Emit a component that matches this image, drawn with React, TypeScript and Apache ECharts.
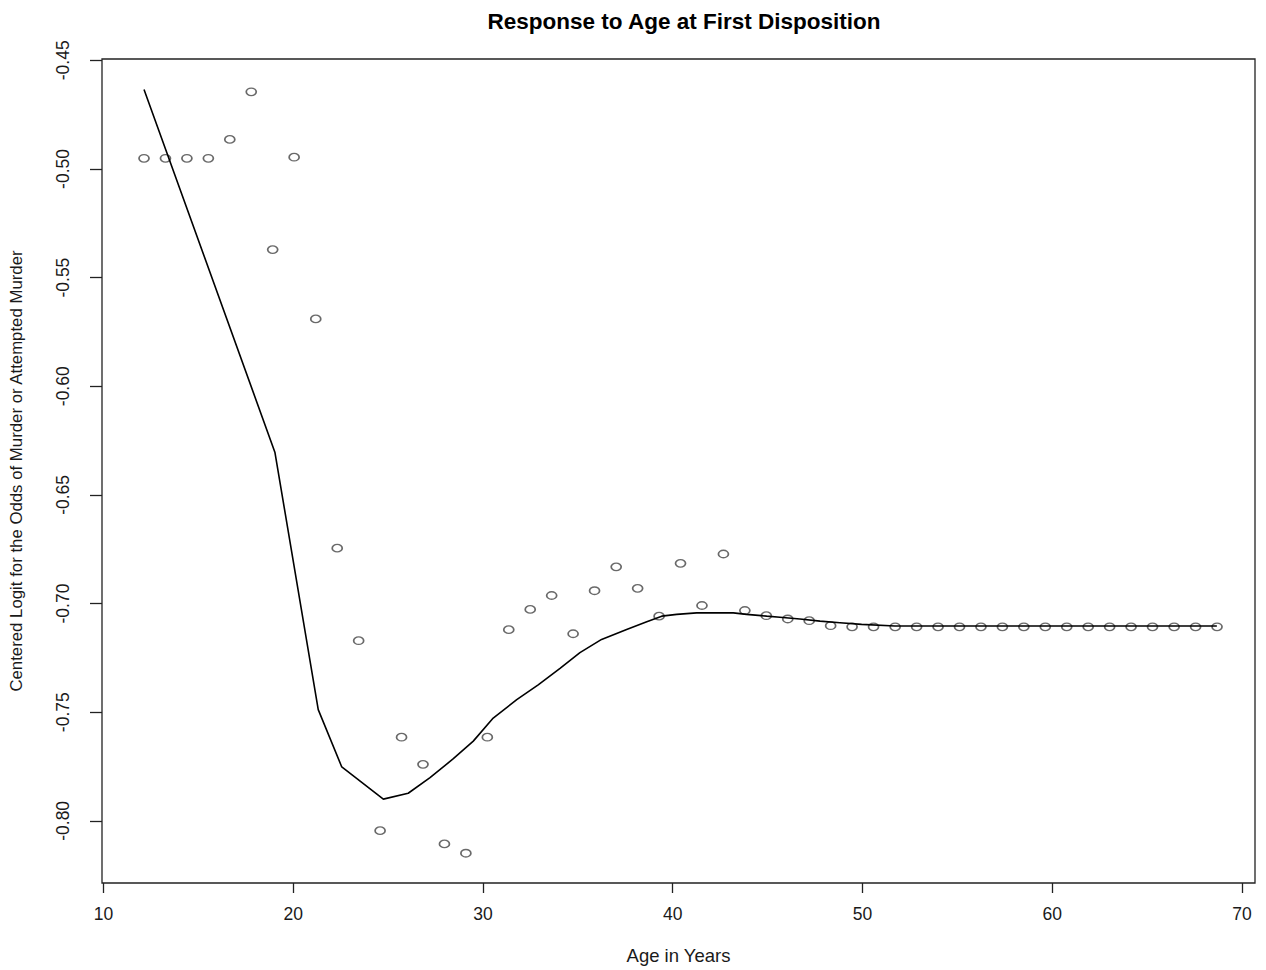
import React, { useEffect, useRef } from "react";
import * as echarts from "echarts";

const pointAges = [
  12.14, 13.27, 14.4, 15.53, 16.66, 17.79, 18.92, 20.05, 21.19, 22.32,
  23.45, 24.58, 25.71, 26.84, 27.97, 29.1, 30.23, 31.36, 32.49, 33.62,
  34.75, 35.88, 37.02, 38.15, 39.28, 40.41, 41.54, 42.67, 43.8, 44.93,
  46.06, 47.19, 48.32, 49.45, 50.58, 51.72, 52.85, 53.98, 55.11, 56.24,
  57.37, 58.5, 59.63, 60.76, 61.89, 63.02, 64.15, 65.28, 66.42, 67.55, 68.68,
];
const pointLogits = [
  -0.4951, -0.4951, -0.4951, -0.4951, -0.4864, -0.4645, -0.5371, -0.4946, -0.569, -0.6745,
  -0.7171, -0.8045, -0.7615, -0.774, -0.8106, -0.8149, -0.7615, -0.712, -0.7027, -0.6963,
  -0.7139, -0.6941, -0.6831, -0.693, -0.7058, -0.6815, -0.7009, -0.6772, -0.7032, -0.7056,
  -0.7071, -0.7079, -0.7102, -0.7107, -0.7107, -0.7107, -0.7107, -0.7107, -0.7107, -0.7107,
  -0.7107, -0.7107, -0.7107, -0.7107, -0.7107, -0.7107, -0.7107, -0.7107, -0.7107, -0.7107, -0.7107,
];

const fitAges = [
  12.14, 19.04, 21.32, 22.56, 24.75, 26.06, 27.21, 28.44, 29.49, 30.54,
  31.78, 32.91, 34.06, 35.11, 36.25, 37.57, 38.63, 39.42, 40.21, 41.26,
  43.19, 43.89, 44.95, 45.65, 46.7, 47.76, 48.81, 49.95, 51.71, 68.67,
];
const fitLogits = [
  -0.4634, -0.6305, -0.7488, -0.7752, -0.79, -0.7873, -0.7801, -0.7714, -0.7633, -0.7527,
  -0.7442, -0.7374, -0.7298, -0.7226, -0.7165, -0.7119, -0.7084, -0.7058, -0.705, -0.7043,
  -0.7043, -0.705, -0.7058, -0.7063, -0.7071, -0.7081, -0.7088, -0.7096, -0.7103, -0.7103,
];

const xTicks = [10, 20, 30, 40, 50, 60, 70];
const yTicks = [-0.8, -0.75, -0.7, -0.65, -0.6, -0.55, -0.5, -0.45];

const FONT = "'Liberation Sans', Arial, sans-serif";
const INK = "#1a1a1a";
const ELLIPSE = "path://M0,5 A6,5 0 1,1 12,5 A6,5 0 1,1 0,5 Z";

export default function App() {
  const ref = useRef<HTMLDivElement>(null);

  useEffect(() => {
    if (!ref.current) return;
    const chart = echarts.init(ref.current, null, { renderer: "svg" });
    chart.setOption({
      animation: false,
      backgroundColor: "#ffffff",
      title: {
        text: "Response to Age at First Disposition",
        left: 679,
        top: 5,
        textAlign: "center",
        textStyle: { fontFamily: FONT, fontWeight: "bold", fontSize: 22.5, color: "#000" },
      },
      grid: {
        left: 102,
        right: 11,
        top: 59,
        bottom: 83,
        show: true,
        borderColor: "#222",
        borderWidth: 1.3,
        backgroundColor: "transparent",
      },
      xAxis: {
        type: "value",
        min: 9.926,
        max: 70.68,
        name: "Age in Years",
        nameLocation: "middle",
        nameGap: 63,
        nameTextStyle: { fontFamily: FONT, fontSize: 18.5, color: INK },
        axisLine: { show: false },
        splitLine: { show: false },
        axisTick: {
          show: true,
          inside: false,
          length: 10,
          customValues: xTicks,
          lineStyle: { color: "#222", width: 1.3 },
        },
        axisLabel: {
          customValues: xTicks,
          margin: 22,
          fontFamily: FONT,
          fontSize: 17.5,
          color: INK,
          formatter: (v: number) => String(Math.round(v)),
        },
      },
      yAxis: {
        type: "value",
        min: -0.8286,
        max: -0.4494,
        name: "Centered Logit for the Odds of Murder or Attempted Murder",
        nameLocation: "middle",
        nameGap: 77,
        nameRotate: 90,
        nameTextStyle: { fontFamily: FONT, fontSize: 16.8, color: INK },
        axisLine: { show: false },
        splitLine: { show: false },
        axisTick: {
          show: true,
          inside: false,
          length: 12,
          customValues: yTicks,
          lineStyle: { color: "#222", width: 1.3 },
        },
        axisLabel: {
          customValues: yTicks,
          rotate: 90,
          margin: 30,
          fontFamily: FONT,
          fontSize: 17.5,
          color: INK,
          formatter: (v: number) => v.toFixed(2),
        },
      },
      series: [
        {
          type: "scatter",
          data: pointAges.map((a, i) => [a, pointLogits[i]]),
          symbol: ELLIPSE,
          symbolSize: [10, 7.5],
          itemStyle: { color: "rgba(255,255,255,0)", borderColor: "#444", borderWidth: 1.5 },
          z: 2,
        },
        {
          type: "line",
          data: fitAges.map((a, i) => [a, fitLogits[i]]),
          symbol: "none",
          smooth: false,
          lineStyle: { color: "#000", width: 1.6 },
          z: 3,
        },
      ],
    });
    return () => chart.dispose();
  }, []);

  return (
    <div
      ref={ref}
      style={{ position: "absolute", left: 0, top: 0, width: 1266, height: 970, background: "#fff" }}
    />
  );
}
